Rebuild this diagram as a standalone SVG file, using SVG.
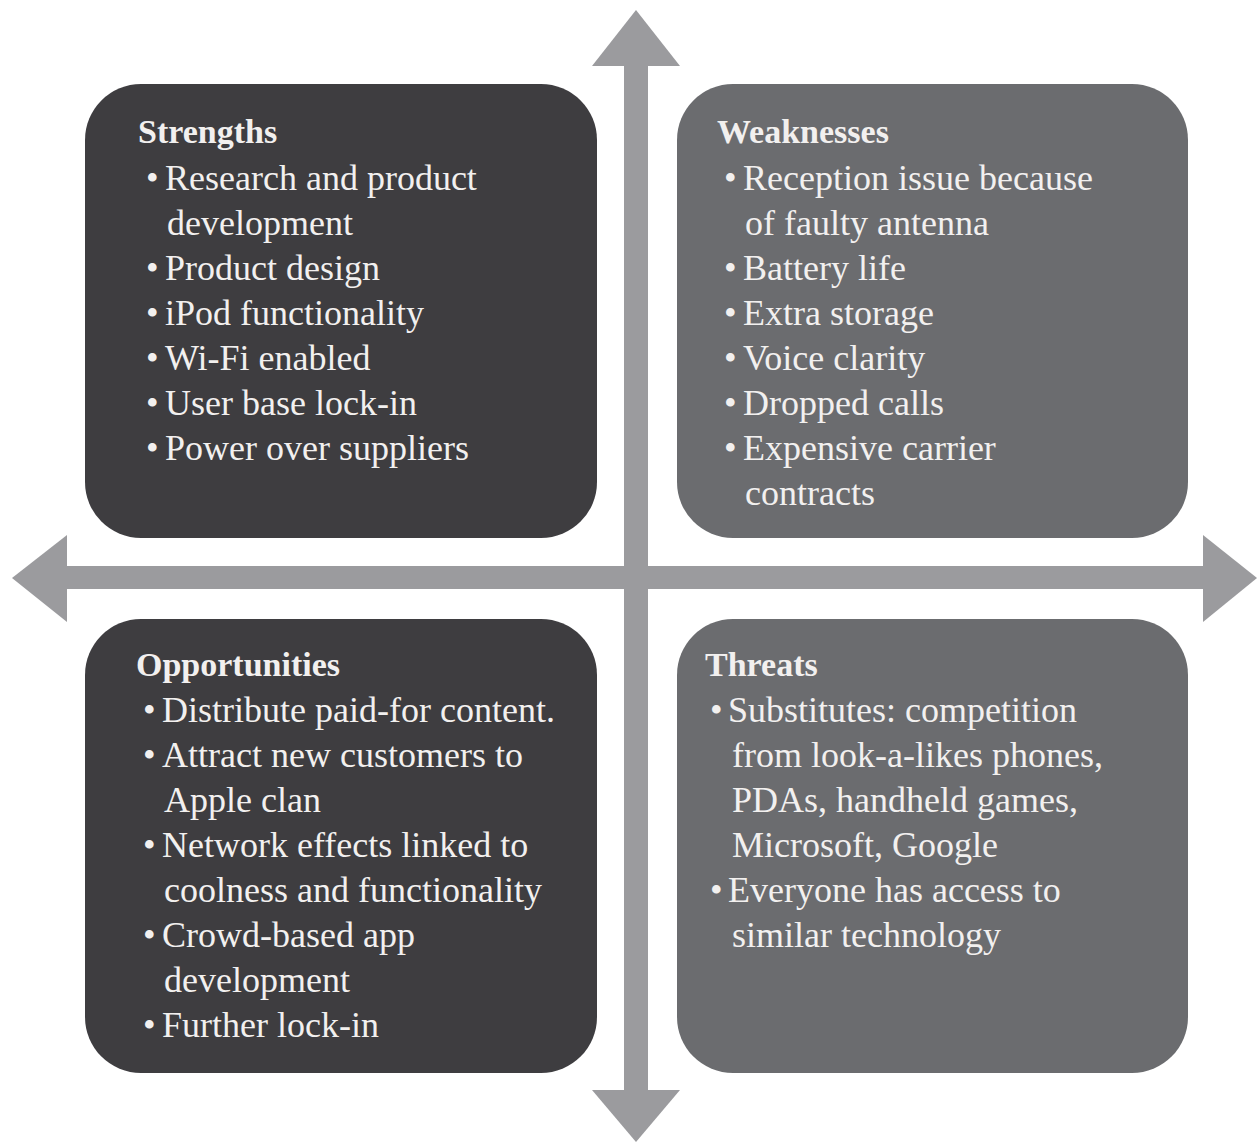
<svg xmlns="http://www.w3.org/2000/svg" width="1257" height="1143" viewBox="0 0 1257 1143">
<style>
.dark{fill:#3e3d40}
.mid{fill:#6b6c6f}
.arrow{fill:#9b9b9e}
text{font-family:"Liberation Serif","Times New Roman",serif;fill:#f2f0ef}
.t{font-size:34px;font-weight:bold}
.b{font-size:36px}
</style>
<rect width="1257" height="1143" fill="#ffffff"/>
<g id="connectors">
<polygon class="arrow" points="624,64 624,1092 648,1092 648,64"/>
<polygon class="arrow" points="636,10 680,66 592,66"/>
<polygon class="arrow" points="636,1142 680,1090 592,1090"/>
<polygon class="arrow" points="64,566 1206,566 1206,589 64,589"/>
<polygon class="arrow" points="12,578 67,535 67,622"/>
<polygon class="arrow" points="1257,578 1203,535 1203,622"/>
</g>
<g id="strengths">
<rect class="dark" x="85" y="84" width="512" height="454" rx="56"/>
<text class="t" x="138" y="143">Strengths</text>
<text class="b"><tspan x="146" y="190">•</tspan><tspan x="165" y="190">Research and product</tspan></text>
<text class="b" x="167" y="235">development</text>
<text class="b"><tspan x="146" y="280">•</tspan><tspan x="165" y="280">Product design</tspan></text>
<text class="b"><tspan x="146" y="325">•</tspan><tspan x="165" y="325">iPod functionality</tspan></text>
<text class="b"><tspan x="146" y="370">•</tspan><tspan x="165" y="370">Wi-Fi enabled</tspan></text>
<text class="b"><tspan x="146" y="415">•</tspan><tspan x="165" y="415">User base lock-in</tspan></text>
<text class="b"><tspan x="146" y="460">•</tspan><tspan x="165" y="460">Power over suppliers</tspan></text>
</g>
<g id="weaknesses">
<rect class="mid" x="677" y="84" width="511" height="454" rx="56"/>
<text class="t" x="717" y="143">Weaknesses</text>
<text class="b"><tspan x="724" y="190">•</tspan><tspan x="743" y="190">Reception issue because</tspan></text>
<text class="b" x="745" y="235">of faulty antenna</text>
<text class="b"><tspan x="724" y="280">•</tspan><tspan x="743" y="280">Battery life</tspan></text>
<text class="b"><tspan x="724" y="325">•</tspan><tspan x="743" y="325">Extra storage</tspan></text>
<text class="b"><tspan x="724" y="370">•</tspan><tspan x="743" y="370">Voice clarity</tspan></text>
<text class="b"><tspan x="724" y="415">•</tspan><tspan x="743" y="415">Dropped calls</tspan></text>
<text class="b"><tspan x="724" y="460">•</tspan><tspan x="743" y="460">Expensive carrier</tspan></text>
<text class="b" x="745" y="505">contracts</text>
</g>
<g id="opportunities">
<rect class="dark" x="85" y="619" width="512" height="454" rx="56"/>
<text class="t" x="136" y="676">Opportunities</text>
<text class="b"><tspan x="143" y="722">•</tspan><tspan x="162" y="722">Distribute paid-for content.</tspan></text>
<text class="b"><tspan x="143" y="767">•</tspan><tspan x="162" y="767">Attract new customers to</tspan></text>
<text class="b" x="164" y="812">Apple clan</text>
<text class="b"><tspan x="143" y="857">•</tspan><tspan x="162" y="857">Network effects linked to</tspan></text>
<text class="b" x="164" y="902">coolness and functionality</text>
<text class="b"><tspan x="143" y="947">•</tspan><tspan x="162" y="947">Crowd-based app</tspan></text>
<text class="b" x="164" y="992">development</text>
<text class="b"><tspan x="143" y="1037">•</tspan><tspan x="162" y="1037">Further lock-in</tspan></text>
</g>
<g id="threats">
<rect class="mid" x="677" y="619" width="511" height="454" rx="56"/>
<text class="t" x="705" y="676">Threats</text>
<text class="b"><tspan x="710" y="722">•</tspan><tspan x="728" y="722">Substitutes: competition</tspan></text>
<text class="b" x="732" y="767">from look-a-likes phones,</text>
<text class="b" x="732" y="812">PDAs, handheld games,</text>
<text class="b" x="732" y="857">Microsoft, Google</text>
<text class="b"><tspan x="710" y="902">•</tspan><tspan x="728" y="902">Everyone has access to</tspan></text>
<text class="b" x="732" y="947">similar technology</text>
</g>
</svg>
